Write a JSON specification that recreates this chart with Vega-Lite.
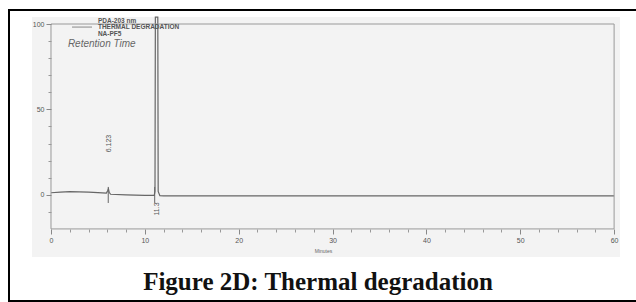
{
  "$schema": "https://vega.github.io/schema/vega-lite/v6.json",
  "width": 628,
  "height": 291,
  "autosize": {"type": "none"},
  "padding": {"left": 9, "top": 10, "right": 0, "bottom": 1},
  "background": "white",
  "config": {"view": {"stroke": "black", "strokeWidth": 2}},
  "resolve": {"axis": {"x": "independent", "y": "independent"}},
  "datasets": {
    "trace": [
      {"time": 0, "signal": 1.2},
      {"time": 1, "signal": 1.5},
      {"time": 2, "signal": 1.8},
      {"time": 3, "signal": 1.7},
      {"time": 4, "signal": 1.6},
      {"time": 5, "signal": 1.3},
      {"time": 5.9, "signal": 1.0},
      {"time": 6.05, "signal": 2.5},
      {"time": 6.12, "signal": 3.5},
      {"time": 6.2, "signal": 1.5},
      {"time": 6.35, "signal": 0.3},
      {"time": 8, "signal": 0.0},
      {"time": 10, "signal": -0.3},
      {"time": 11.0, "signal": -0.3},
      {"time": 11.08, "signal": 2},
      {"time": 11.12, "signal": 104},
      {"time": 11.38, "signal": 104},
      {"time": 11.42, "signal": 2},
      {"time": 11.6, "signal": -0.5},
      {"time": 12, "signal": -0.6},
      {"time": 20, "signal": -0.7},
      {"time": 30, "signal": -0.7},
      {"time": 40, "signal": -0.7},
      {"time": 50, "signal": -0.7},
      {"time": 60, "signal": -0.7}
    ]
  },
  "layer": [
    {
      "data": {"values": [{}]},
      "mark": {"type": "rect", "fill": "#f3f3f3", "stroke": null},
      "encoding": {
        "x": {"datum": -2.02, "type": "quantitative", "scale": {"domain": [-4.475, 62.44], "nice": false, "zero": false},
          "axis": {"orient": "bottom", "values": [2,4,6,8,12,14,16,18,22,24,26,28,32,34,36,38,42,44,46,48,52,54,56,58],
            "labels": false, "offset": -72, "domain": false, "grid": false, "tickColor": "#999", "tickSize": 3, "title": null, "zindex": 1}},
        "x2": {"datum": 60.63},
        "y": {"datum": 104.1, "type": "quantitative", "scale": {"domain": [-62.2, 108.2], "nice": false, "zero": false},
          "axis": {"orient": "left", "values": [-10,10,20,30,40,60,70,80,90],
            "labels": false, "offset": -42, "domain": false, "grid": false, "tickColor": "#999", "tickSize": 3, "title": null, "zindex": 1}},
        "y2": {"datum": -36.4}
      }
    },
    {
      "data": {"name": "trace"},
      "mark": {"type": "line", "color": "#666", "strokeWidth": 1.2, "interpolate": "linear"},
      "encoding": {
        "x": {
          "field": "time", "type": "quantitative",
          "scale": {"domain": [-4.475, 62.44], "nice": false, "zero": false},
          "axis": {
            "orient": "bottom",
            "values": [0,10,20,30,40,50,60],
            "labelOverlap": false,
            "offset": -72, "domain": false, "grid": false,
            "tickColor": "#888", "tickSize": 5,
            "labelFontSize": 7, "labelColor": "#555", "labelFont": "Liberation Sans", "labelPadding": 2,
            "labelFlush": false,
            "title": "Minutes", "titleFontSize": 5, "titleFontWeight": "normal", "titleColor": "#666", "titlePadding": 5,
            "zindex": 1
          }
        },
        "y": {
          "field": "signal", "type": "quantitative",
          "scale": {"domain": [-62.2, 108.2], "nice": false, "zero": false},
          "axis": {
            "orient": "left",
            "values": [0,50,100],
            "labelOverlap": false,
            "offset": -42, "domain": false, "grid": false,
            "tickColor": "#888", "tickSize": 5,
            "labelFontSize": 7, "labelColor": "#555", "labelFont": "Liberation Sans", "labelPadding": 2,
            "labelFlush": false,
            "title": null,
            "zindex": 1
          }
        }
      }
    },
    {
      "data": {"values": [{}]},
      "mark": {"type": "rect", "fill": null, "stroke": "#999", "strokeWidth": 1},
      "encoding": {
        "x": {"datum": 0, "type": "quantitative", "axis": null},
        "x2": {"datum": 60},
        "y": {"datum": 100, "type": "quantitative", "axis": null},
        "y2": {"datum": -20}
      }
    },
    {
      "data": {"values": [{"rt": 6.1}, {"rt": 11.05}]},
      "mark": {"type": "rule", "color": "#666", "strokeWidth": 1},
      "encoding": {
        "x": {"field": "rt", "type": "quantitative", "axis": null},
        "y": {"datum": 4.6, "type": "quantitative", "axis": null},
        "y2": {"datum": -4.8}
      }
    },
    {
      "data": {"values": [{"rt": 6.18, "label": "6.123"}]},
      "mark": {"type": "text", "angle": 270, "fontSize": 7, "font": "Liberation Sans", "color": "#555", "align": "center", "baseline": "middle"},
      "encoding": {
        "x": {"field": "rt", "type": "quantitative", "axis": null},
        "y": {"datum": 30, "type": "quantitative", "axis": null},
        "text": {"field": "label"}
      }
    },
    {
      "data": {"values": [{"rt": 11.3, "label": "11.3"}]},
      "mark": {"type": "text", "angle": 270, "fontSize": 7, "font": "Liberation Sans", "color": "#555", "align": "center", "baseline": "middle"},
      "encoding": {
        "x": {"field": "rt", "type": "quantitative", "axis": null},
        "y": {"datum": -8.3, "type": "quantitative", "axis": null},
        "text": {"field": "label"}
      }
    },
    {
      "data": {"values": [{}]},
      "mark": {"type": "rule", "color": "#888", "strokeWidth": 1},
      "encoding": {
        "x": {"datum": 2.24, "type": "quantitative", "axis": null},
        "x2": {"datum": 4.37},
        "y": {"datum": 98.2, "type": "quantitative", "axis": null}
      }
    },
    {
      "data": {"values": [{}]},
      "mark": {"type": "text", "fontSize": 6.5, "font": "Liberation Sans", "fontWeight": "bold", "color": "#555", "align": "left", "baseline": "middle"},
      "encoding": {
        "x": {"datum": 5.0, "type": "quantitative", "axis": null},
        "y": {"datum": 102.0, "type": "quantitative", "axis": null},
        "text": {"value": "PDA-203 nm"}
      }
    },
    {
      "data": {"values": [{}]},
      "mark": {"type": "text", "fontSize": 6.5, "font": "Liberation Sans", "fontWeight": "bold", "color": "#555", "align": "left", "baseline": "middle"},
      "encoding": {
        "x": {"datum": 5.0, "type": "quantitative", "axis": null},
        "y": {"datum": 98.2, "type": "quantitative", "axis": null},
        "text": {"value": "THERMAL DEGRADATION"}
      }
    },
    {
      "data": {"values": [{}]},
      "mark": {"type": "text", "fontSize": 6.5, "font": "Liberation Sans", "fontWeight": "bold", "color": "#555", "align": "left", "baseline": "middle"},
      "encoding": {
        "x": {"datum": 5.0, "type": "quantitative", "axis": null},
        "y": {"datum": 94.4, "type": "quantitative", "axis": null},
        "text": {"value": "NA-PF5"}
      }
    },
    {
      "data": {"values": [{}]},
      "mark": {"type": "text", "fontSize": 10, "font": "Liberation Sans", "fontStyle": "italic", "color": "#666", "align": "left", "baseline": "middle"},
      "encoding": {
        "x": {"datum": 1.8, "type": "quantitative", "axis": null},
        "y": {"datum": 88.5, "type": "quantitative", "axis": null},
        "text": {"value": "Retention Time"}
      }
    },
    {
      "data": {"values": [{}]},
      "mark": {"type": "text", "fontSize": 25, "font": "Liberation Serif", "fontWeight": "bold", "color": "#111", "align": "center", "baseline": "middle"},
      "encoding": {
        "x": {"datum": 28.45, "type": "quantitative", "axis": null},
        "y": {"datum": -50.8, "type": "quantitative", "axis": null},
        "text": {"value": "Figure 2D: Thermal degradation"}
      }
    }
  ]
}
